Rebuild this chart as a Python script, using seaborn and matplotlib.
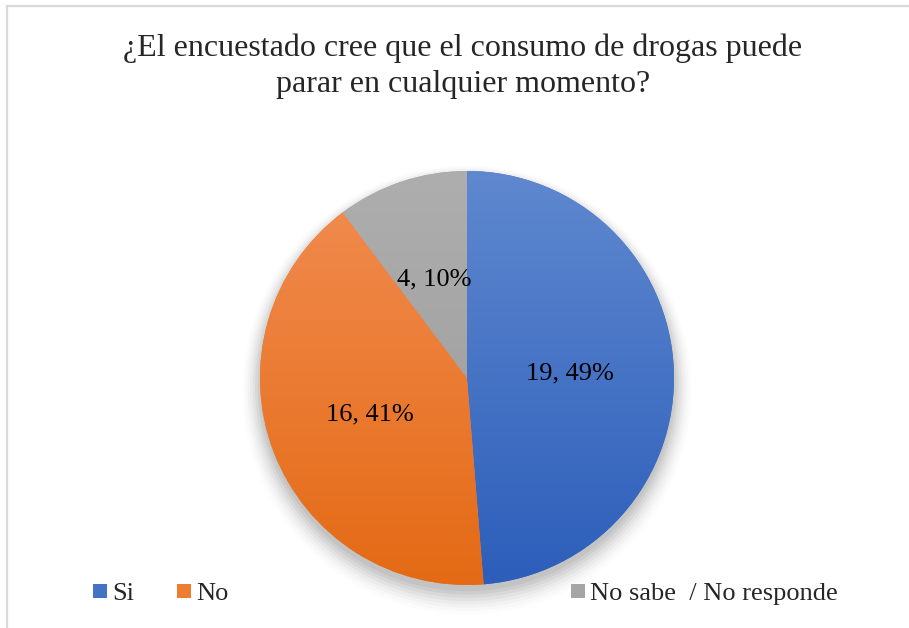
import numpy as np
import seaborn as sns
import matplotlib.pyplot as plt
from matplotlib.colors import LinearSegmentedColormap
from matplotlib.lines import Line2D
from matplotlib.patches import Circle

categories = ["Si", "No", "No sabe  / No responde"]
counts = [19, 16, 4]
top_colors = ["#5F88CF", "#F28D52", "#AEAEAE"]
bottom_colors = ["#2C5EBA", "#E46A15", "#999999"]
base_colors = ["#4472C4", "#ED7D31", "#A5A5A5"]

sns.set_theme(style="white")
plt.rcParams["font.family"] = ["Liberation Serif", "DejaVu Serif"]

fig = plt.figure(figsize=(9.09, 6.28), dpi=100)
W, H = 909, 628
cx, cy, r = 467, 378, 207
ax = fig.add_axes([(cx - r) / W, (H - cy - r) / H, 2 * r / W, 2 * r / H])

# soft shadow under the pie
for i, a in enumerate(np.linspace(0.05, 0.012, 8)):
    ax.add_patch(Circle((0, -0.03 - i * 0.004), 1.0 + i * 0.012,
                        color="black", alpha=a, lw=0, zorder=0, clip_on=False))

total = sum(counts)
wedges, texts, autotexts = ax.pie(
    counts,
    colors=sns.color_palette(base_colors),
    startangle=90,
    counterclock=False,
    radius=1.0,
    pctdistance=0.5,
    autopct=lambda p: f"{round(p * total / 100)}, {p:.0f}%",
    wedgeprops=dict(linewidth=0, edgecolor="none"),
    textprops=dict(fontsize=19, color="black"),
)

# vertical gradient fill for every wedge
grad = np.linspace(0, 1, 256).reshape(-1, 1)
for w, c0, c1 in zip(wedges, top_colors, bottom_colors):
    cmap = LinearSegmentedColormap.from_list("g", [c0, c1])
    im = ax.imshow(grad, cmap=cmap, extent=(-1, 1, -1, 1), origin="upper",
                   aspect="auto", zorder=1)
    im.set_clip_path(w)
    w.set_zorder(0.5)
for t in autotexts:
    t.set_zorder(3)

ax.set_xlim(-1.0, 1.0)
ax.set_ylim(-1.0, 1.0)
ax.set_aspect("equal")
ax.axis("off")

fig.text(463 / W, 1 - 66 / H,
         "¿El encuestado cree que el consumo de drogas puede\nparar en cualquier momento?",
         ha="center", va="center", fontsize=23, linespacing=1.3)

# legend: three entries spread as in the reference
def handle(color):
    return Line2D([], [], marker="s", linestyle="none", markersize=10,
                  markerfacecolor=color, markeredgewidth=0)

fig.legend([handle(base_colors[0]), handle(base_colors[1])], categories[:2],
           loc="center left", bbox_to_anchor=(79 / W, 1 - 593 / H),
           ncol=2, frameon=False, fontsize=19, handlelength=0.6,
           handletextpad=0.15, columnspacing=1.6, borderpad=0)
fig.legend([handle(base_colors[2])], categories[2:],
           loc="center left", bbox_to_anchor=(557 / W, 1 - 593 / H),
           frameon=False, fontsize=19, handlelength=0.6,
           handletextpad=0.15, borderpad=0)

# chart area border (top and left visible)
fig.add_artist(Line2D([7 / W, 1], [1 - 6 / H, 1 - 6 / H], color="#D9D9D9", lw=1.6))
fig.add_artist(Line2D([7 / W, 7 / W], [0, 1 - 6 / H], color="#D9D9D9", lw=1.6))

fig.savefig("out.png", dpi=100, facecolor="white")
